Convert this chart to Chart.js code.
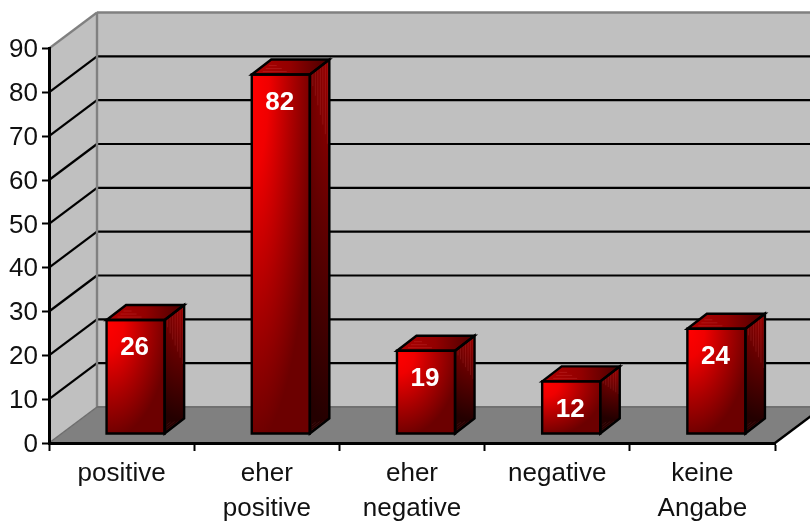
<!DOCTYPE html>
<html>
<head>
<meta charset="utf-8">
<title>Bewertung</title>
<style>
  html, body { margin: 0; padding: 0; background: #fff; overflow: hidden; }
  canvas { display: block; }
</style>
<script src="https://cdn.jsdelivr.net/npm/chart.js@4"></script>
</head>
<body>
<canvas id="chart" width="810" height="521"></canvas>
<script>
const categories = [["positive"], ["eher", "positive"], ["eher", "negative"], ["negative"], ["keine", "Angabe"]];
const values = [26, 82, 19, 12, 24];
const yTicks = [0, 10, 20, 30, 40, 50, 60, 70, 80, 90];

const FONT = '"Liberation Sans", Arial, sans-serif';
// depth of the box the chart stands in, and where the bars sit inside it
const depthX = 48, depthY = 36;
const barShiftX = 14, barShiftY = 9;
const barDepthX = 19.5, barDepthY = 15;

function line(ctx, x1, y1, x2, y2, color, width) {
    ctx.strokeStyle = color;
    ctx.lineWidth = width;
    ctx.beginPath();
    ctx.moveTo(x1, y1);
    ctx.lineTo(x2, y2);
    ctx.stroke();
}

function polygon(ctx, pts) {
    ctx.beginPath();
    pts.forEach((p, i) => i ? ctx.lineTo(p[0], p[1]) : ctx.moveTo(p[0], p[1]));
    ctx.closePath();
}

// fills the current path with an elliptical gradient around (cx, cy)
function fillEllipse(ctx, cx, cy, rx, ry, stops) {
    ctx.save();
    ctx.translate(cx, cy);
    ctx.scale(rx, ry);
    let g = ctx.createRadialGradient(0, 0, 0, 0, 0, 1);
    stops.forEach((s) => g.addColorStop(s[0], s[1]));
    ctx.fillStyle = g;
    ctx.fill();
    ctx.restore();
}

const boxPlugin = {
    id: "box",
    beforeDraw(chart) {
        let ctx = chart.ctx;
        let { left, right, top, bottom } = chart.chartArea;
        let y = chart.scales.y;

        // middle baseline sits a little high for these digits
        if (!chart.$labelsNudged) {
            y.getLabelItems(chart.chartArea).forEach((item) => { item.options.translation[1] += 1.5; });
            chart.$labelsNudged = true;
        }

        ctx.save();

        // side wall, back wall, floor
        ctx.fillStyle = "#c0c0c0";
        polygon(ctx, [[left, bottom], [left + depthX, bottom - depthY], [left + depthX, top - depthY], [left, top]]);
        ctx.fill();
        ctx.fillRect(left + depthX, top - depthY, chart.width, bottom - top);
        ctx.fillStyle = "#808080";
        polygon(ctx, [[left, bottom], [left + depthX, bottom - depthY], [right + depthX, bottom - depthY], [right, bottom]]);
        ctx.fill();

        // gridlines run along the side wall and across the back
        yTicks.forEach((t) => {
            let py = y.getPixelForValue(t);
            if (t === 0 || t === 90) return;
            line(ctx, left, py, left + depthX, py - depthY, "#000", 2.2);
            line(ctx, left + depthX, py - depthY, chart.width, py - depthY, "#000", 2.2);
        });

        // wall edges
        line(ctx, left + depthX, top - depthY, left + depthX, bottom - depthY, "#808080", 2.4);
        line(ctx, left + depthX, top - depthY, chart.width, top - depthY, "#808080", 2.4);
        line(ctx, left, top, left + depthX, top - depthY, "#808080", 2.2);
        line(ctx, left, bottom, left + depthX, bottom - depthY, "#6e6e6e", 1.5);
        line(ctx, left + depthX, bottom - depthY, chart.width, bottom - depthY, "#707070", 2);
        line(ctx, right, bottom, right + depthX, bottom - depthY, "#000", 2.4);
        ctx.restore();
    },
    afterDatasetsDraw(chart) {
        let ctx = chart.ctx;
        let meta = chart.getDatasetMeta(0);
        ctx.save();
        meta.data.forEach((bar, i) => {
            let w = bar.width;
            let x0 = bar.x - w / 2 + barShiftX;
            let x1 = x0 + w;
            let y0 = bar.y - barShiftY;
            let y1 = bar.base - barShiftY;
            let h = y1 - y0;
            ctx.lineJoin = "miter";

            // top face
            polygon(ctx, [[x0, y0], [x0 + barDepthX, y0 - barDepthY], [x1 + barDepthX, y0 - barDepthY], [x1, y0]]);
            let topFill = ctx.createLinearGradient(x0, 0, x1 + barDepthX, 0);
            topFill.addColorStop(0, "#b00000");
            topFill.addColorStop(0.5, "#920000");
            topFill.addColorStop(1, "#480000");
            ctx.fillStyle = topFill;
            ctx.fill();
            for (let k = 1; k < 4; k++) {
                line(ctx, x0 + 8 + k * 3, y0 - k * 3, x0 + 40 - k * 5, y0 - k * 3, "rgba(255,130,130,0.16)", 1);
            }

            // right face
            polygon(ctx, [[x1, y0], [x1 + barDepthX, y0 - barDepthY], [x1 + barDepthX, y1 - barDepthY], [x1, y1]]);
            fillEllipse(ctx, x1 + barDepthX, y0 - barDepthY, barDepthX * 2.8, h * 1.02,
                [[0, "#9a0000"], [0.45, "#620000"], [1, "#240000"]]);
            for (let k = 3; k < barDepthX; k += 2.5) {
                let reach = Math.min(h * 0.55, 90) * (k / barDepthX);
                let sx = x1 + k;
                let sy = y0 - barDepthY * k / barDepthX;
                line(ctx, sx, sy + 1, sx, sy + reach, "rgba(255,120,120,0.14)", 1);
            }
            for (let k = 1; k < 4; k++) {
                line(ctx, x1 + 2, y1 - 1 - k * 2.5, x1 + 2 + (4 - k) * 4, y1 - 1 - k * 2.5 - (4 - k) * 3, "rgba(255,120,120,0.10)", 1);
            }

            // front face
            polygon(ctx, [[x0, y0], [x1, y0], [x1, y1], [x0, y1]]);
            fillEllipse(ctx, x0 + 2, y0 + 2, w * 1.05, h * 1.02,
                [[0, "#ff0000"], [0.25, "#f00000"], [0.65, "#a80000"], [1, "#6c0000"]]);

            // outlines
            ctx.strokeStyle = "#000";
            ctx.lineWidth = 2.4;
            polygon(ctx, [[x0, y0], [x1, y0], [x1, y1], [x0, y1]]);
            ctx.stroke();
            polygon(ctx, [[x0, y0], [x0 + barDepthX, y0 - barDepthY], [x1 + barDepthX, y0 - barDepthY], [x1, y0]]);
            ctx.stroke();
            polygon(ctx, [[x1, y0], [x1 + barDepthX, y0 - barDepthY], [x1 + barDepthX, y1 - barDepthY], [x1, y1]]);
            ctx.stroke();

            // value label
            ctx.fillStyle = "#fff";
            ctx.font = "bold 26px " + FONT;
            ctx.textAlign = "center";
            ctx.textBaseline = "middle";
            ctx.fillText(values[i], x0 + w / 2 - 1, y0 + 28);
        });
        ctx.restore();
    }
};

new Chart(document.getElementById("chart").getContext("2d"), {
    type: "bar",
    data: {
        labels: categories,
        datasets: [{
            data: values,
            backgroundColor: "transparent",
            borderWidth: 0,
            barPercentage: 0.4,
            categoryPercentage: 1
        }]
    },
    options: {
        responsive: false,
        animation: false,
        events: [],
        layout: { padding: { top: 48.5, right: 35, left: 0, bottom: 0 } },
        plugins: { legend: { display: false }, tooltip: { enabled: false } },
        scales: {
            x: {
                afterFit(scale) { scale.height = 78; },
                grid: { drawOnChartArea: false, offset: true, tickLength: 8, tickWidth: 2, tickColor: "#000" },
                border: { color: "#000", width: 3 },
                ticks: {
                    color: "#111",
                    padding: 6,
                    autoSkip: false,
                    maxRotation: 0,
                    font: { family: FONT, size: 26, lineHeight: 1.32 }
                }
            },
            y: {
                min: 0,
                max: 90,
                afterFit(scale) { scale.width = 49; },
                afterBuildTicks(scale) { scale.ticks = yTicks.map((v) => ({ value: v })); },
                grid: { drawOnChartArea: false, tickLength: 7, tickWidth: 2, tickColor: "#000" },
                border: { color: "#000", width: 3 },
                ticks: {
                    color: "#111",
                    padding: 4,
                    font: { family: FONT, size: 26 }
                }
            }
        }
    },
    plugins: [boxPlugin]
});
</script>
</body>
</html>
